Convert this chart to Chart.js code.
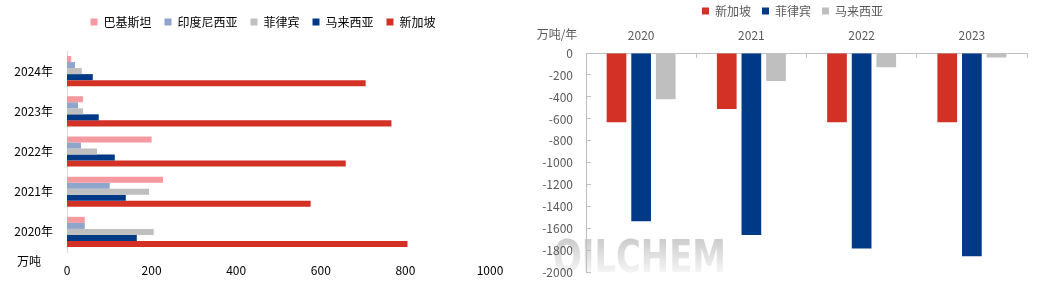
<!DOCTYPE html>
<html>
<head>
<meta charset="utf-8">
<script src="https://cdn.jsdelivr.net/npm/chart.js@4"></script>
<style>
  html, body { margin: 0; padding: 0; background: #fff; }
  #wrap { position: relative; width: 1055px; height: 298px; overflow: hidden; }
  .box { position: absolute; top: 0; height: 298px; }
  #left { left: 0; width: 520px; }
  #right { left: 526px; width: 529px; }
</style>
</head>
<body>
<div id="wrap">
  <div class="box" id="left"><canvas id="importChart"></canvas></div>
  <div class="box" id="right"><canvas id="balanceChart"></canvas></div>
</div>
<script>
// left chart: supply by origin, 万吨
const years       = ['2024年', '2023年', '2022年', '2021年', '2020年'];
const pakistan    = [10, 38, 200, 227, 42];
const indonesia   = [19, 26, 33, 101, 42];
const philippines = [35, 38, 71, 194, 205];
const malaysia    = [61, 75, 113, 139, 165];
const singapore   = [706, 767, 659, 576, 805];

// right chart: net balance, 万吨/年
const balanceYears = ['2020', '2021', '2022', '2023'];
const sgBalance    = [-630, -510, -630, -630];
const phBalance    = [-1530, -1655, -1780, -1850];
const myBalance    = [-420, -255, -130, -40];

const PINK = '#F3999F', STEEL = '#8EA6C9', GREY = '#BFBFBF', NAVY = '#003A86', RED = '#D43126';
const FONT = "'Microsoft YaHei', 'Noto Sans CJK SC', sans-serif";
const RIGHT_TOP = -6;

Chart.defaults.font.family = FONT;
Chart.defaults.font.size = 12;
Chart.defaults.animation = false;

// shift the legend after layout (its reserved space stays where it was)
const legendNudge = {
  id: 'legendNudge',
  afterLayout(chart, args, opts) {
    const l = chart.legend;
    if (!l) return;
    const dx = opts.dx || 0, dy = opts.dy || 0;
    l.left += dx; l.right += dx;
    l.top += dy; l.bottom += dy;
  }
};

// loose text labels (units)
const notes = {
  id: 'notes',
  afterDraw(chart, args, opts) {
    const ctx = chart.ctx;
    (opts.items || []).forEach(t => {
      ctx.save();
      ctx.font = '12px ' + FONT;
      ctx.fillStyle = t.color;
      ctx.textAlign = 'center';
      ctx.textBaseline = 'middle';
      ctx.fillText(t.text, t.x, t.y);
      ctx.restore();
    });
  }
};

const watermark = {
  id: 'watermark',
  beforeDraw(chart) {
    const ctx = chart.ctx;
    ctx.save();
    ctx.font = "bold 44px 'DejaVu Sans', sans-serif";
    const w = ctx.measureText('OILCHEM').width;
    ctx.translate(27, 272);
    ctx.scale(173 / w, 1);
    const g = ctx.createLinearGradient(0, -32, 0, 0);
    g.addColorStop(0, '#cdcdcd');
    g.addColorStop(1, '#f4f4f4');
    ctx.fillStyle = g;
    ctx.textAlign = 'left';
    ctx.textBaseline = 'alphabetic';
    ctx.fillText('OILCHEM', 0, 0);
    ctx.restore();
  }
};

const plain = v => String(v);

new Chart(document.getElementById('importChart').getContext('2d'), {
  type: 'bar',
  data: {
    labels: years,
    datasets: [
      { label: '巴基斯坦',   data: pakistan,    backgroundColor: PINK },
      { label: '印度尼西亚', data: indonesia,   backgroundColor: STEEL },
      { label: '菲律宾',     data: philippines, backgroundColor: GREY },
      { label: '马来西亚',   data: malaysia,    backgroundColor: NAVY },
      { label: '新加坡',     data: singapore,   backgroundColor: RED }
    ]
  },
  options: {
    indexAxis: 'y',
    responsive: true,
    maintainAspectRatio: false,
    categoryPercentage: 0.75,
    barPercentage: 1.0,
    layout: { padding: { top: 16, right: 30, bottom: 0, left: 0 } },
    plugins: {
      legend: {
        position: 'top',
        labels: { boxWidth: 7, boxHeight: 7, padding: 13, color: '#000', font: { size: 12 } }
      },
      tooltip: { enabled: false },
      legendNudge: { dx: 18, dy: -13 },
      notes: { items: [{ text: '万吨', x: 29, y: 261, color: '#000' }] }
    },
    scales: {
      x: {
        min: 0, max: 1000,
        ticks: { stepSize: 200, color: '#000', padding: 11, callback: plain },
        grid: { display: false, drawTicks: false },
        border: { display: false },
        afterFit: s => { s.height = 46; }
      },
      y: {
        ticks: { color: '#000', padding: 14 },
        grid: { display: false, drawTicks: false },
        border: { display: true, color: '#d9d9d9' },
        afterFit: s => { s.width = 67; }
      }
    }
  },
  plugins: [legendNudge, notes]
});

new Chart(document.getElementById('balanceChart').getContext('2d'), {
  type: 'bar',
  data: {
    labels: balanceYears,
    datasets: [
      { label: '新加坡',   data: sgBalance, backgroundColor: RED },
      { label: '菲律宾',   data: phBalance, backgroundColor: NAVY },
      { label: '马来西亚', data: myBalance, backgroundColor: GREY }
    ]
  },
  options: {
    responsive: true,
    maintainAspectRatio: false,
    categoryPercentage: 0.67,
    barPercentage: 0.8,
    layout: { padding: { top: RIGHT_TOP, right: 28, bottom: 18, left: 0 } },
    plugins: {
      legend: {
        position: 'top',
        labels: { boxWidth: 7, boxHeight: 7, padding: 11, color: '#595959', font: { size: 12 } }
      },
      tooltip: { enabled: false },
      legendNudge: { dx: 16, dy: 0 },
      notes: { items: [{ text: '万吨/年', x: 31, y: 34, color: '#595959' }] }
    },
    scales: {
      x: {
        position: 'top',
        ticks: { color: '#595959', padding: 15 },
        grid: { offset: true, drawOnChartArea: false, drawTicks: true, tickLength: -5, color: '#bfbfbf' },
        border: { display: true, color: '#bfbfbf' },
        afterFit: s => { s.height = 53 - RIGHT_TOP - s.chart.legend.height; }
      },
      y: {
        min: -2000, max: 0,
        ticks: { stepSize: 200, color: '#595959', padding: 18, callback: plain },
        grid: { drawOnChartArea: false, drawTicks: true, tickLength: -5, color: '#bfbfbf' },
        border: { display: true, color: '#bfbfbf' },
        afterFit: s => { s.width = 60; }
      }
    }
  },
  plugins: [legendNudge, notes, watermark]
});
</script>
</body>
</html>
